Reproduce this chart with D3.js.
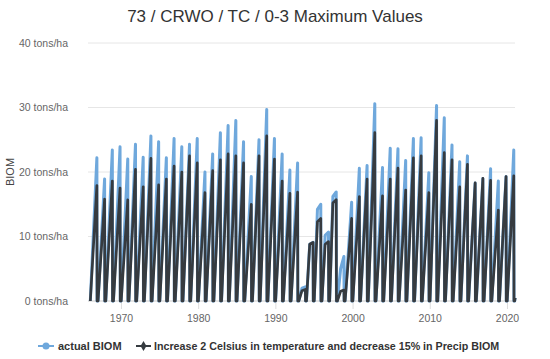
<!DOCTYPE html>
<html>
<head>
<meta charset="utf-8">
<script src="https://cdn.jsdelivr.net/npm/d3@7"></script>
<style>
  html, body { margin: 0; padding: 0; background: #fff; }
  svg { display: block; font-family: "Liberation Sans", Arial, sans-serif; }
</style>
</head>
<body>
<svg id="chart" width="550" height="359"></svg>
<script>
// ---- data ----
const title = "73 / CRWO / TC / 0-3 Maximum Values";
const seriesNames = ["actual BIOM", "Increase 2 Celsius in temperature and decrease 15% in Precip BIOM"];
const years = d3.range(1966, 2021);
// annual peak biomass (tons/ha)
const actualPeak = [22.2,18.9,23.4,23.9,22.0,24.3,22.3,25.6,24.7,22.2,25.2,23.9,24.3,25.2,20.0,22.8,26.1,27.2,
  28.0,24.7,19.3,25.0,29.7,25.2,22.8,20.3,21.4,
  2.2,9.1,15.0,10.7,16.9,6.9,15.3,20.6,
  21.0,30.6,20.7,23.7,23.6,21.8,25.2,25.3,19.9,30.3,28.4,24.2,21.6,22.5,18.3,19.0,20.5,18.6,19.3,23.4];
const scenarioPeak = [17.9,15.8,18.6,17.5,15.7,20.4,17.7,22.1,18.0,18.9,20.9,20.0,22.5,21.4,16.8,20.2,21.9,22.8,
  22.5,21.4,15.0,22.5,25.6,22.0,18.6,16.7,16.9,
  1.8,9.1,12.8,9.2,15.7,1.7,12.8,16.2,
  18.9,26.1,16.3,18.9,20.6,17.2,22.2,22.5,16.8,28.0,23.0,21.9,17.7,21.2,18.3,19.0,18.7,14.1,19.3,19.4];
// drought years with a flat (stagnating) top: value reached mid-season
const plateauYears = [1993, 1994, 1995, 1996, 1997, 1998];
const actualPlateau = [2.0, 8.8, 14.2, 10.2, 16.2, 5.0];
const scenarioPlateau = [1.6, 8.8, 12.3, 8.8, 15.2, 1.5];
// season timing (fraction of year): growth start, plateau reached, peak, harvest
const seasonStart = 0.03, plateauAt = 0.45, peakAt = 0.88, harvestAt = 0.91;
// partial last season
const lastYear = 2021, lastValue = 0.5;
const yTicks = [0, 10, 20, 30, 40];
const yTickLabels = ["0 tons/ha", "10 tons/ha", "20 tons/ha", "30 tons/ha", "40 tons/ha"];
const xTicks = [1970, 1980, 1990, 2000, 2010, 2020];
const colors = ["#6fa8dc", "#363b40"];

// ---- build point lists from the arrays ----
function buildSeries(peaks, plateaus) {
  const pts = [];
  years.forEach((yr, i) => {
    pts.push([yr + seasonStart, 0]);
    const pi = plateauYears.indexOf(yr);
    if (pi >= 0) pts.push([yr + plateauAt, plateaus[pi]]);
    pts.push([yr + peakAt, peaks[i]]);
    pts.push([yr + harvestAt, 0]);
  });
  pts.push([lastYear, 0]);
  pts.push([lastYear + 0.06, lastValue]);
  return pts;
}
const actualPts = buildSeries(actualPeak, actualPlateau);
const scenarioPts = buildSeries(scenarioPeak, scenarioPlateau);

// ---- layout ----
const svg = d3.select("#chart");
const pLeft = 88, pRight = 515, pTop = 43, pBottom = 301;
const x = d3.scaleLinear().domain([1965.73, 2021.04]).range([pLeft, pRight]);
const y = d3.scaleLinear().domain([0, 40]).range([pBottom, pTop]);

svg.append("text").attr("x", 275).attr("y", 22).attr("text-anchor", "middle")
  .attr("font-size", 17).attr("fill", "#333").text(title);

// gridlines
svg.append("g").selectAll("line").data(yTicks).join("line")
  .attr("x1", pLeft).attr("x2", pRight)
  .attr("y1", d => y(d)).attr("y2", d => y(d))
  .attr("stroke", d => d === 0 ? "#cccccc" : "#e6e6e6").attr("stroke-width", 1);

// y axis labels
const yAxis = d3.axisLeft(y).tickValues(yTicks).tickSize(0).tickPadding(20)
  .tickFormat((d, i) => yTickLabels[i]);
svg.append("g").attr("transform", `translate(${pLeft},0)`).call(yAxis)
  .call(g => g.select(".domain").remove())
  .call(g => g.selectAll("text").attr("font-size", 10.5).attr("fill", "#666")
    .attr("font-family", "Liberation Sans, Arial, sans-serif"));

// x axis
const xAxis = d3.axisBottom(x).tickValues(xTicks).tickSize(8).tickPadding(6).tickFormat(d3.format("d"));
svg.append("g").attr("transform", `translate(0,${pBottom})`).call(xAxis)
  .call(g => g.select(".domain").remove())
  .call(g => g.selectAll("line").attr("stroke", "#dddddd"))
  .call(g => g.selectAll("text").attr("font-size", 10.5).attr("fill", "#666")
    .attr("font-family", "Liberation Sans, Arial, sans-serif"));

// y axis title
svg.append("text").attr("transform", `translate(14,${(pTop + pBottom) / 2}) rotate(-90)`)
  .attr("text-anchor", "middle").attr("font-size", 11).attr("fill", "#444").text("BIOM");

// lines
const line = d3.line().x(d => x(d[0])).y(d => y(d[1]));
svg.append("path").datum(actualPts).attr("d", line)
  .attr("fill", "none").attr("stroke", colors[0]).attr("stroke-width", 3).attr("stroke-linejoin", "round");
svg.append("path").datum(scenarioPts).attr("d", line)
  .attr("fill", "none").attr("stroke", colors[1]).attr("stroke-width", 2.7).attr("stroke-linejoin", "round");

// legend
const leg = svg.append("g").attr("transform", "translate(0,346)");
const l1 = leg.append("g").attr("transform", "translate(38,0)");
l1.append("line").attr("x1", 0).attr("x2", 16).attr("stroke", colors[0]).attr("stroke-width", 2);
l1.append("circle").attr("cx", 8).attr("r", 3.5).attr("fill", colors[0]);
l1.append("text").attr("x", 20).attr("y", 4).attr("font-size", 11).attr("font-weight", "bold")
  .attr("fill", "#333").text(seriesNames[0]);
const l2 = leg.append("g").attr("transform", "translate(136,0)");
l2.append("line").attr("x1", 0).attr("x2", 15).attr("stroke", colors[1]).attr("stroke-width", 2);
l2.append("path").attr("d", d3.symbol(d3.symbolDiamond, 30)()).attr("transform", "translate(7.5,0)").attr("fill", colors[1]);
l2.append("text").attr("x", 18).attr("y", 4).attr("font-size", 10.7).attr("font-weight", "bold")
  .attr("fill", "#333").text(seriesNames[1]);
</script>
</body>
</html>
